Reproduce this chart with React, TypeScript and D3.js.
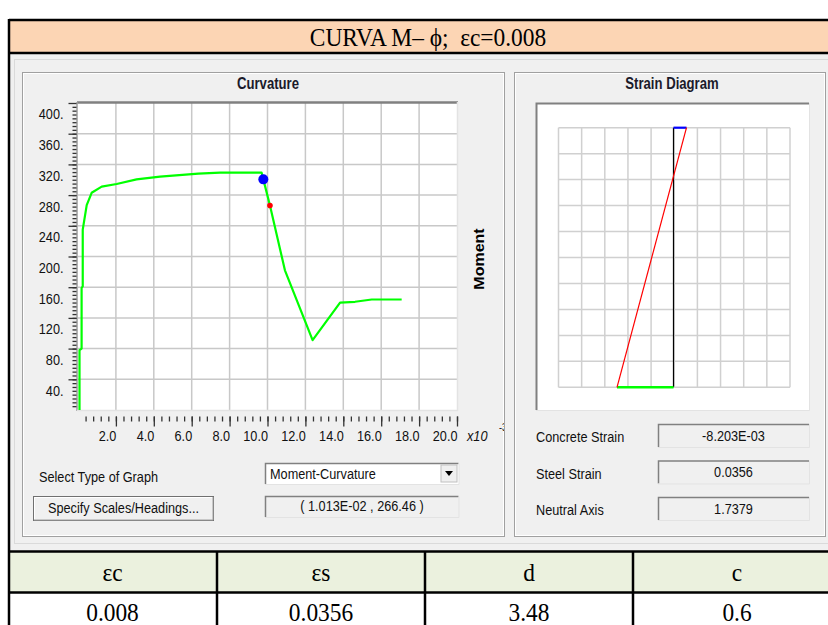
import React, { useEffect, useRef } from "react";
import * as d3 from "d3";

// moment - curvature curve (curvature in x10^-3, moment)
const curvature = [0.08, 0.08, 0.19, 0.19, 0.25, 0.25, 0.46, 0.72, 1.25, 2.04, 3.09, 4.33, 6.35, 7.5, 9.69, 9.78, 10.13, 10.92, 12.38, 13.83, 14.62, 15.5, 17.08];
const moment = [0, 78, 80, 159, 161, 235, 267, 283, 291, 294.5, 300.5, 304, 308, 309.2, 309.2, 300.5, 266.46, 182, 91, 140, 141, 144, 144];

const xTicks = [2, 4, 6, 8, 10, 12, 14, 16, 18, 20];
const xLabels = ["2.0", "4.0", "6.0", "8.0", "10.0", "12.0", "14.0", "16.0", "18.0", "20.0"];
const yTicks = [40, 80, 120, 160, 200, 240, 280, 320, 360, 400];
const yLabels = ["40.", "80.", "120.", "160.", "200.", "240.", "280.", "320.", "360.", "400."];

const bluePoint = [9.78, 300.5];
const redPoint = [10.13, 266.46];

// strain diagram
const concreteStrain = -0.008203;
const steelStrain = 0.0356;
const neutralAxis = 1.7379;

const infoLabels = ["Concrete Strain", "Steel Strain", "Neutral Axis"];
const infoValues = ["-8.203E-03", "0.0356", neutralAxis.toString()];

const tableHeads = ["εc", "εs", "d", "c"];
const tableValues = ["0.008", "0.0356", "3.48", "0.6"];

const UI = "'Liberation Sans', Arial, sans-serif";
const SERIF = "'Liberation Serif', 'Times New Roman', serif";
const NARROW = 0.82; // the app font is a narrow one

// text squeezed sideways, like the narrow font in the screenshot
const NText = ({ x, y, children, anchor = "start", size = 15.5, weight = "normal", sx = NARROW, family = UI, fill = "#111", italic = false }) => (
  <text
    transform={`translate(${x},${y}) scale(${sx},1)`}
    textAnchor={anchor}
    fontFamily={family}
    fontSize={size}
    fontWeight={weight}
    fontStyle={italic ? "italic" : "normal"}
    fill={fill}
    style={{ whiteSpace: "pre" }}
  >
    {children}
  </text>
);

const App = () => {
  const chartRef = useRef(null);
  const strainRef = useRef(null);

  useEffect(() => {
    const g = d3.select(chartRef.current);
    g.selectAll("*").remove();

    const x = d3.scaleLinear().domain([0, 20]).range([78, 457]);
    const y = d3.scaleLinear().domain([0, 400]).range([410, 103]);

    g.append("rect")
      .attr("x", 78).attr("y", 103).attr("width", 379).attr("height", 307)
      .attr("fill", "#fff");

    // grid
    g.selectAll(".vg").data(xTicks.slice(0, -1)).enter().append("line")
      .attr("x1", d => x(d)).attr("x2", d => x(d))
      .attr("y1", 103).attr("y2", 410)
      .attr("stroke", "#c8c8c8").attr("stroke-width", 1.5);
    g.selectAll(".hg").data(yTicks.slice(0, -1)).enter().append("line")
      .attr("y1", d => y(d)).attr("y2", d => y(d))
      .attr("x1", 78).attr("x2", 457)
      .attr("stroke", "#c8c8c8").attr("stroke-width", 1.5);

    // frame (sunken)
    g.append("line").attr("x1", 77).attr("x2", 458).attr("y1", 102.5).attr("y2", 102.5)
      .attr("stroke", "#808080").attr("stroke-width", 2.5);
    g.append("line").attr("x1", 77).attr("x2", 77).attr("y1", 102).attr("y2", 411)
      .attr("stroke", "#a0a0a0").attr("stroke-width", 1.5);
    g.append("line").attr("x1", 457.5).attr("x2", 457.5).attr("y1", 102).attr("y2", 411)
      .attr("stroke", "#e3e3e3").attr("stroke-width", 1.5);
    g.append("line").attr("x1", 77).attr("x2", 458).attr("y1", 410.5).attr("y2", 410.5)
      .attr("stroke", "#e3e3e3").attr("stroke-width", 1.5);

    // y axis
    const yMinor = d3.axisLeft(y).tickValues(d3.range(5, 400, 5)).tickSize(4).tickFormat(() => "");
    const gyMinor = g.append("g").attr("transform", "translate(76.5,0)").call(yMinor);
    gyMinor.select(".domain").remove();
    const yMajor = d3.axisLeft(y).tickValues(yTicks).tickSize(8)
      .tickFormat((d, i) => yLabels[i]);
    const gy = g.append("g").attr("transform", "translate(76.5,0)").call(yMajor);
    gy.select(".domain").remove();
    [gyMinor, gy].forEach(a => a.selectAll("line").attr("stroke", "#333").attr("stroke-width", 1.3));
    gy.selectAll("text")
      .attr("transform", `scale(${NARROW},1)`)
      .attr("x", -13 / NARROW).attr("dy", null).attr("y", 16)
      .attr("font-family", UI).attr("font-size", 15.5).attr("fill", "#111");

    // x axis
    const xMinor = d3.axisBottom(x).tickValues(d3.range(0.4, 20.01, 0.4)).tickSize(5).tickFormat(() => "");
    const gxMinor = g.append("g").attr("transform", "translate(0,416.5)").call(xMinor);
    gxMinor.select(".domain").remove();
    const xMajor = d3.axisBottom(x).tickValues(xTicks).tickSize(10).tickFormat((d, i) => xLabels[i]);
    const gx = g.append("g").attr("transform", "translate(0,416.5)").call(xMajor);
    gx.select(".domain").remove();
    [gxMinor, gx].forEach(a => a.selectAll("line").attr("stroke", "#333").attr("stroke-width", 1.3));
    gx.selectAll("text")
      .attr("transform", `scale(${NARROW},1)`)
      .attr("text-anchor", "end").attr("x", 0).attr("dy", null).attr("y", 24.5)
      .attr("font-family", UI).attr("font-size", 15.5).attr("fill", "#111");

    // curve
    const pts = curvature.map((c, i) => [c, moment[i]]);
    const line = d3.line().x(d => x(d[0])).y(d => y(d[1]));
    g.append("path").datum(pts).attr("d", line)
      .attr("fill", "none").attr("stroke", "#00ff00").attr("stroke-width", 2.2)
      .attr("stroke-linejoin", "round");

    g.append("circle").attr("cx", x(bluePoint[0])).attr("cy", y(bluePoint[1])).attr("r", 5).attr("fill", "#0000ff");
    g.append("circle").attr("cx", x(redPoint[0])).attr("cy", y(redPoint[1])).attr("r", 2.8).attr("fill", "#ff0000");
  }, []);

  useEffect(() => {
    const g = d3.select(strainRef.current);
    g.selectAll("*").remove();

    const gx = d3.scaleLinear().domain([0, 10]).range([558.5, 790]);
    const gy = d3.scaleLinear().domain([0, 10]).range([127.7, 387.3]);
    const sx = d3.scaleLinear().domain([steelStrain, concreteStrain]).range([617, 686.5]);
    const sy = d3.scaleLinear().domain([0, 1]).range([127.7, 387.3]);

    g.selectAll(".v").data(d3.range(11)).enter().append("line")
      .attr("x1", d => gx(d)).attr("x2", d => gx(d)).attr("y1", gy(0)).attr("y2", gy(10))
      .attr("stroke", "#d0d0d0").attr("stroke-width", 1.5);
    g.selectAll(".h").data(d3.range(11)).enter().append("line")
      .attr("y1", d => gy(d)).attr("y2", d => gy(d)).attr("x1", gx(0)).attr("x2", gx(10))
      .attr("stroke", "#d0d0d0").attr("stroke-width", 1.5);

    g.append("line").attr("x1", sx(0)).attr("x2", sx(0)).attr("y1", sy(0)).attr("y2", sy(1))
      .attr("stroke", "#000").attr("stroke-width", 1.2);
    g.append("line").attr("x1", sx(0)).attr("x2", sx(concreteStrain)).attr("y1", sy(0)).attr("y2", sy(0))
      .attr("stroke", "#0000ff").attr("stroke-width", 2.2);
    g.append("line").attr("x1", sx(steelStrain)).attr("x2", sx(0)).attr("y1", sy(1)).attr("y2", sy(1))
      .attr("stroke", "#00ff00").attr("stroke-width", 2.5);
    g.append("line").attr("x1", sx(concreteStrain)).attr("x2", sx(steelStrain)).attr("y1", sy(0)).attr("y2", sy(1))
      .attr("stroke", "#ff0000").attr("stroke-width", 1.2);
  }, []);

  const colX = [8, 217, 425, 633, 841];

  return (
    <svg width={828} height={625} style={{ position: "absolute", left: 0, top: 0 }}>
      <rect x={0} y={0} width={828} height={625} fill="#fff" />
      {/* title row */}
      <rect x={9} y={20} width={830} height={33} fill="#fcd5b4" />
      <NText x={428} y={46} anchor="middle" family={SERIF} size={26} sx={0.9} fill="#000">
        {"CURVA M– ϕ;  εc=0.008"}
      </NText>
      {/* window area */}
      <rect x={9} y={53} width={830} height={498} fill="#f0f0f0" />
      <rect x={14.5} y={59.5} width={830} height={484} fill="none" stroke="#dadada" />
      {/* group boxes */}
      <rect x={22.5} y={72.5} width={482} height={464} fill="none" stroke="#a0a0a0" />
      <rect x={23.5} y={73.5} width={480} height={462} fill="none" stroke="#fff" />
      <rect x={514.5} y={72.5} width={311} height={464} fill="none" stroke="#a0a0a0" />
      <rect x={515.5} y={73.5} width={309} height={462} fill="none" stroke="#fff" />
      <NText x={268} y={89} anchor="middle" weight="bold" size={16} fill="#1a1a2a">Curvature</NText>
      <NText x={672} y={89} anchor="middle" weight="bold" size={16} fill="#1a1a2a">Strain Diagram</NText>

      <clipPath id="gb">
        <rect x={23} y={73} width={481} height={463} />
      </clipPath>
      <g ref={chartRef} />
      <g clipPath="url(#gb)">
        <NText x={467} y={441} italic>x10</NText>
        <NText x={499} y={431} size={11}>-3</NText>
      </g>
      <text transform="translate(484,259) rotate(-90) scale(1,0.9)" textAnchor="middle" fontFamily={UI} fontWeight="bold" fontSize={16} fill="#000">Moment</text>

      {/* controls */}
      <NText x={39} y={482}>Select Type of Graph</NText>
      <rect x={265} y={463} width={194} height={21} fill="#fff" />
      <path d="M265.5,484 V463.5 H458.5" fill="none" stroke="#808080" strokeWidth={1.5} />
      <path d="M459,463.5 V484.5 H265" fill="none" stroke="#e3e3e3" />
      <NText x={270} y={479}>Moment-Curvature</NText>
      <rect x={441} y={465} width={16} height={17} fill="#f0f0f0" stroke="#c0c0c0" />
      <path d="M445,471 h8 l-4,5 z" fill="#000" />

      <rect x={33.5} y={496.5} width={180} height={24} fill="#f0f0f0" stroke="#707070" />
      <path d="M34.5,519.5 V497.5 H212.5" fill="none" stroke="#fff" />
      <path d="M213,497 V520 H34" fill="none" stroke="#a0a0a0" />
      <NText x={123.5} y={513} anchor="middle">Specify Scales/Headings...</NText>

      <rect x={265} y={496} width={194} height={21} fill="#f0f0f0" />
      <path d="M265.5,517 V496.5 H458.5" fill="none" stroke="#808080" strokeWidth={1.5} />
      <path d="M459,496.5 V517.5 H265" fill="none" stroke="#e3e3e3" />
      <NText x={362} y={511} anchor="middle">{"( 1.013E-02 , 266.46 )"}</NText>

      {/* strain panel */}
      <rect x={536} y={103} width={273} height={307} fill="#fff" />
      <path d="M536.5,410 V103.5 H809" fill="none" stroke="#808080" strokeWidth={2} />
      <path d="M809.5,103 V410.5 H536" fill="none" stroke="#e3e3e3" />
      <g ref={strainRef} />

      {infoLabels.map((l, i) => (
        <g key={l}>
          <NText x={536} y={442 + i * 36.5}>{l}</NText>
          <rect x={658} y={424 + i * 36.5} width={151} height={23} fill="#f0f0f0" />
          <path d={`M658.5,${447 + i * 36.5} V${424.5 + i * 36.5} H809`} fill="none" stroke="#808080" strokeWidth={1.5} />
          <path d={`M809.5,${424 + i * 36.5} V${447.5 + i * 36.5} H658`} fill="none" stroke="#e3e3e3" />
          <NText x={733.5} y={440.5 + i * 36.5} anchor="middle">{infoValues[i]}</NText>
        </g>
      ))}

      {/* result table */}
      <rect x={9} y={552} width={830} height={40} fill="#ebf1de" />
      <rect x={9} y={592} width={830} height={40} fill="#fff" />
      {tableHeads.map((h, i) => (
        <NText key={h} x={(colX[i] + colX[i + 1]) / 2} y={581} anchor="middle" family={SERIF} size={26} sx={0.9} fill="#000">{h}</NText>
      ))}
      {tableValues.map((v, i) => (
        <NText key={v} x={(colX[i] + colX[i + 1]) / 2} y={621} anchor="middle" family={SERIF} size={26} sx={0.9} fill="#000">{v}</NText>
      ))}
      {/* table borders */}
      <g stroke="#000" strokeWidth={2.5}>
        <line x1={9} x2={828} y1={20} y2={20} />
        <line x1={9} x2={828} y1={53} y2={53} />
        <line x1={9} x2={828} y1={551.5} y2={551.5} />
        <line x1={9} x2={828} y1={592.5} y2={592.5} />
        <line x1={9} x2={9} y1={19} y2={625} />
        {colX.slice(1, 4).map(c => (
          <line key={c} x1={c} x2={c} y1={551} y2={625} />
        ))}
      </g>
    </svg>
  );
};

export default App;
